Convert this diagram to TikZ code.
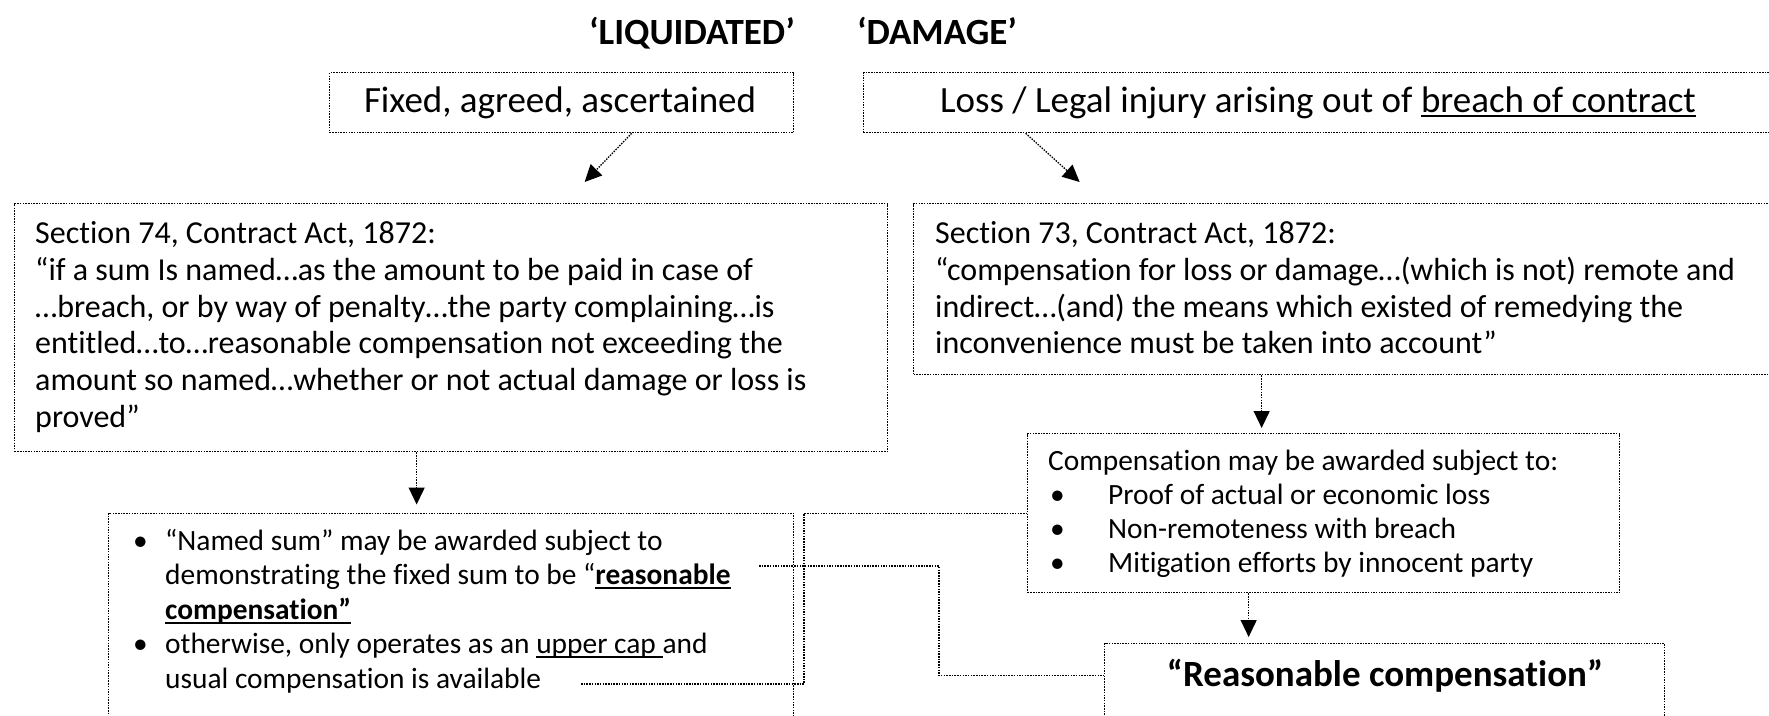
\documentclass[tikz,border=0pt]{standalone}
\usepackage{fontspec}
\setmainfont{Carlito}[Ligatures={NoCommon}]
\usetikzlibrary{arrows.meta}
\newsavebox{\ulbox}
\newcommand{\ulx}[1]{\sbox{\ulbox}{#1}\rlap{\rule[-4.5pt]{\wd\ulbox}{1.8pt}}\usebox{\ulbox}}
\begin{document}
\begin{tikzpicture}[x=1pt,y=-1pt,
 box/.style={draw, line width=1.3pt, dash pattern=on 1.5pt off 1.2pt, rectangle, inner sep=0pt, anchor=north west},
 conn/.style={line width=1.3pt, dash pattern=on 1.5pt off 1.2pt},
 arr/.style={conn, -{Triangle[width=16pt,length=17pt]}},
 big/.style={font=\fontsize{37}{44}\selectfont, inner sep=0pt, anchor=base},
 bigb/.style={font=\fontsize{37}{44}\selectfont\bfseries, inner sep=0pt, anchor=base},
 body/.style={font=\fontsize{32}{37}\selectfont, inner sep=0pt, anchor=base west},
 small/.style={font=\fontsize{29.4}{35}\selectfont, inner sep=0pt, anchor=base west}]
\useasboundingbox[fill=white] (0,0) rectangle (1769,715);

% boxes
\node[box, minimum width=464pt, minimum height=60pt] (fixed) at (329,72) {};
\node[box, minimum width=910pt, minimum height=60pt] (loss) at (863,72) {};
\node[box, minimum width=873pt, minimum height=248pt] (s74) at (14,203) {};
\node[box, minimum width=860pt, minimum height=171pt] (s73) at (913,203) {};
\node[box, minimum width=685pt, minimum height=215pt] (bl) at (108,512.5) {};
\node[box, minimum width=592pt, minimum height=159pt] (comp) at (1027,433) {};
\node[box, minimum width=560pt, minimum height=90pt] (reas) at (1104,643) {};

% titles
\node[bigb] (tl) at (692,44) {‘LIQUIDATED’};
\node[bigb] (td) at (937,44) {‘DAMAGE’};
\node[big] (ft) at (560,112) {Fixed, agreed, ascertained};
\node[big] (lt) at (1318,112) {Loss / Legal injury arising out of \ulx{breach of contract}};

% section 74
\node[body] (s74a) at (35,243) {Section 74, Contract Act, 1872:};
\node[body] (s74b) at (35,280) {“if a sum Is named…as the amount to be paid in case of};
\node[body] (s74c) at (35,317) {…breach, or by way of penalty…the party complaining…is};
\node[body] (s74d) at (35,353) {entitled…to…reasonable compensation not exceeding the};
\node[body] (s74e) at (35,390) {amount so named…whether or not actual damage or loss is};
\node[body] (s74f) at (35,427) {proved”};

% section 73
\node[body] (s73a) at (935,243) {Section 73, Contract Act, 1872:};
\node[body] (s73b) at (935,280) {“compensation for loss or damage…(which is not) remote and};
\node[body] (s73c) at (935,317) {indirect…(and) the means which existed of remedying the};
\node[body] (s73d) at (935,353) {inconvenience must be taken into account”};

% compensation box
\node[small] (ca) at (1048,470) {Compensation may be awarded subject to:};
\node[small] (cb1) at (1050,504) {•};
\node[small] (cb) at (1108,504) {Proof of actual or economic loss};
\node[small] (cc1) at (1050,538) {•};
\node[small] (cc) at (1108,538) {Non-remoteness with breach};
\node[small] (cd1) at (1050,572) {•};
\node[small] (cd) at (1108,572) {Mitigation efforts by innocent party};

% bottom-left box
\node[small] (ba1) at (133,550) {•};
\node[small] (ba) at (165,550) {“Named sum” may be awarded subject to};
\node[small] (bb) at (165,584.5) {demonstrating the fixed sum to be “\textbf{\ulx{reasonable}}};
\node[small] (bc) at (165,619) {\textbf{\ulx{compensation”}}};
\node[small] (bd1) at (133,653.5) {•};
\node[small] (bd) at (165,653.5) {otherwise, only operates as an \ulx{upper cap }and};
\node[small] (be) at (165,688) {usual compensation is available};

% reasonable
\node[bigb] (rt) at (1385,686) {“Reasonable compensation”};

% arrows
\draw[arr] ([xshift=70pt]fixed.south) -- ([xshift=133.5pt,yshift=21pt]s74.north);
\draw[arr] ([xshift=-293pt]loss.south) -- ([xshift=-264pt,yshift=21pt]s73.north);
\draw[arr] ([xshift=-34.5pt]s74.south) -- ([xshift=-34.5pt,yshift=8pt]bl.north);
\draw[arr] ([xshift=-82pt]s73.south) -- ([xshift=-62pt,yshift=5pt]comp.north);
\draw[arr] ([xshift=-75pt]comp.south) -- ([xshift=-136pt,yshift=6pt]reas.north);

% elbow connectors
\coordinate (a0) at (581,684);
\draw[conn] (a0) -| ([xshift=-223pt]comp.west) -- (comp.west);
\coordinate (b0) at (759,566);
\draw[conn] (b0) -| ([xshift=-165pt,yshift=13pt]reas.west) -- ([yshift=13pt]reas.west);
\end{tikzpicture}
\end{document}
